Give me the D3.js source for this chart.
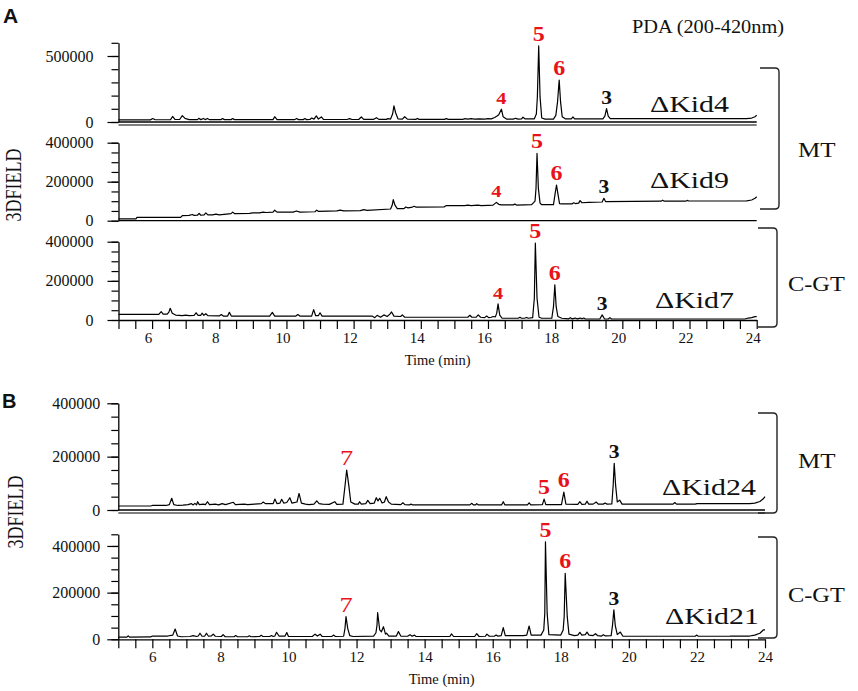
<!DOCTYPE html>
<html>
<head>
<meta charset="utf-8">
<script src="https://cdn.jsdelivr.net/npm/d3@7"></script>
<style>
  body { margin: 0; background: #fff; }
  svg { display: block; font-family: "Liberation Serif", "Times New Roman", serif; }
</style>
</head>
<body>
<div id="chart"></div>
<script>
// Chromatogram traces: [time (min), 3DFIELD signal]
const kid4 = [[5.0,16e3],[5.95,16e3],[6.02,26e3],[6.09,17e3],[6.55,18e3],[6.61,42e3],[6.68,19e3],[6.82,19e3],[6.9,48e3],[6.98,27e3],[7.1,18e3],[7.35,18e3],[7.39,28e3],[7.45,18e3],[7.53,27e3],[7.58,18e3],[7.65,27e3],[7.7,18e3],[8.05,18e3],[8.1,26e3],[8.15,18e3],[8.35,18e3],[8.4,26e3],[8.45,18e3],[9.6,18e3],[9.65,40e3],[9.72,18e3],[10.25,18e3],[10.3,27e3],[10.36,18e3],[10.5,18e3],[10.55,26e3],[10.6,18e3],[10.7,19e3],[10.75,30e3],[10.82,22e3],[10.89,46e3],[10.95,22e3],[11.04,38e3],[11.1,19e3],[11.8,19e3],[11.88,26e3],[11.95,19e3],[12.15,19e3],[12.23,38e3],[12.3,20e3],[12.6,20e3],[12.68,33e3],[12.75,20e3],[12.98,20e3],[13.02,26e3],[13.1,22e3],[13.16,60e3],[13.2,122e3],[13.25,70e3],[13.32,24e3],[13.45,22e3],[13.52,40e3],[13.6,22e3],[13.85,20e3],[13.9,27e3],[13.95,20e3],[14.7,20e3],[14.76,26e3],[14.82,20e3],[15.25,20e3],[15.3,25e3],[15.4,22e3],[15.5,25e3],[15.6,22e3],[15.75,24e3],[15.9,22e3],[16.0,26e3],[16.1,24e3],[16.2,34e3],[16.27,45e3],[16.32,55e3],[16.4,97e3],[16.45,40e3],[16.55,22e3],[16.75,22e3],[16.82,28e3],[16.9,22e3],[17.0,24e3],[17.04,36e3],[17.1,24e3],[17.38,24e3],[17.44,60e3],[17.47,190e3],[17.51,576e3],[17.55,190e3],[17.6,30e3],[17.7,22e3],[17.95,22e3],[18.02,50e3],[18.07,150e3],[18.12,318e3],[18.16,154e3],[18.21,40e3],[18.3,24e3],[18.48,24e3],[18.53,38e3],[18.58,24e3],[19.42,24e3],[19.48,45e3],[19.53,102e3],[19.58,45e3],[19.64,26e3],[23.7,26e3],[23.85,30e3],[23.95,40e3],[24.0,52e3]];

const kid9 = [[5.0,9e3],[5.52,9e3],[5.55,17e3],[6.85,17e3],[6.9,26e3],[7.1,27e3],[7.2,32e3],[7.25,27e3],[7.35,28e3],[7.4,38e3],[7.45,28e3],[7.55,30e3],[7.6,40e3],[7.66,30e3],[7.8,30e3],[7.9,34e3],[8.0,30e3],[8.35,36e3],[8.4,44e3],[8.46,36e3],[8.9,38e3],[9.0,40e3],[9.2,40e3],[9.3,44e3],[9.4,42e3],[9.6,44e3],[9.65,54e3],[9.72,44e3],[10.2,44e3],[10.3,50e3],[10.4,44e3],[10.85,46e3],[10.9,54e3],[10.95,48e3],[11.5,50e3],[11.6,54e3],[11.7,50e3],[12.2,52e3],[12.3,57e3],[12.4,53e3],[13.1,60e3],[13.15,80e3],[13.18,108e3],[13.23,80e3],[13.3,62e3],[13.5,62e3],[13.55,70e3],[13.62,66e3],[13.75,70e3],[13.8,74e3],[13.85,70e3],[14.7,71e3],[14.75,77e3],[15.3,77e3],[15.4,80e3],[15.5,77e3],[15.7,80e3],[15.8,77e3],[16.0,79e3],[16.15,80e3],[16.25,94e3],[16.32,84e3],[16.4,81e3],[16.6,81e3],[16.75,81e3],[16.8,85e3],[16.85,80e3],[17.3,82e3],[17.4,100e3],[17.43,166e3],[17.46,345e3],[17.5,166e3],[17.55,90e3],[17.6,82e3],[17.95,82e3],[18.0,140e3],[18.04,183e3],[18.08,140e3],[18.13,88e3],[18.2,86e3],[18.5,86e3],[18.55,92e3],[18.6,88e3],[18.7,90e3],[18.74,103e3],[18.8,92e3],[19.0,94e3],[19.4,96e3],[19.45,115e3],[19.5,98e3],[21.15,100e3],[21.2,105e3],[21.25,100e3],[21.88,100e3],[21.93,104e3],[21.98,101e3],[23.7,102e3],[23.85,106e3],[23.95,115e3],[24.0,123e3]];

const kid7 = [[5.0,29e3],[6.2,29e3],[6.27,43e3],[6.33,30e3],[6.45,30e3],[6.5,40e3],[6.54,60e3],[6.6,35e3],[6.7,25e3],[6.9,22e3],[7.0,25e3],[7.1,22e3],[7.25,24e3],[7.31,37e3],[7.37,24e3],[7.45,24e3],[7.49,35e3],[7.54,24e3],[7.6,32e3],[7.66,22e3],[8.0,21e3],[8.06,28e3],[8.12,20e3],[8.25,20e3],[8.3,39e3],[8.36,20e3],[9.5,20e3],[9.58,39e3],[9.65,20e3],[10.28,20e3],[10.34,28e3],[10.4,20e3],[10.75,20e3],[10.81,53e3],[10.87,22e3],[10.95,22e3],[11.0,37e3],[11.06,20e3],[12.55,20e3],[12.63,12e3],[12.7,24e3],[12.8,14e3],[12.9,26e3],[13.0,18e3],[13.08,30e3],[13.13,41e3],[13.2,20e3],[13.4,18e3],[13.45,26e3],[13.52,14e3],[15.4,14e3],[15.46,24e3],[15.52,14e3],[15.65,15e3],[15.71,26e3],[15.78,14e3],[15.9,12e3],[15.96,20e3],[16.02,12e3],[16.1,14e3],[16.15,18e3],[16.22,16e3],[16.26,35e3],[16.3,82e3],[16.35,25e3],[16.42,9e3],[16.9,9e3],[16.95,14e3],[17.0,9e3],[17.1,10e3],[17.15,13e3],[17.2,9e3],[17.33,12e3],[17.38,111e3],[17.41,393e3],[17.46,111e3],[17.52,14e3],[17.6,9e3],[17.9,9e3],[17.95,68e3],[17.99,180e3],[18.03,68e3],[18.08,18e3],[18.2,9e3],[18.4,6e3],[18.45,12e3],[18.5,6e3],[18.6,10e3],[18.65,6e3],[18.75,10e3],[18.8,6e3],[18.85,10e3],[18.9,5e3],[19.33,5e3],[19.4,26e3],[19.47,5e3],[19.58,5e3],[19.63,12e3],[19.68,5e3],[23.65,5e3],[23.75,10e3],[23.85,12e3],[23.95,17e3],[24.0,17e3]];

const kid24 = [[5.0,15e3],[5.95,15e3],[6.0,17e3],[6.4,17e3],[6.5,20e3],[6.57,44e3],[6.63,20e3],[6.75,17e3],[6.9,18e3],[7.05,20e3],[7.15,24e3],[7.2,19e3],[7.25,25e3],[7.3,19e3],[7.33,31e3],[7.38,20e3],[7.5,22e3],[7.56,20e3],[7.62,31e3],[7.68,20e3],[7.85,22e3],[7.95,19e3],[8.05,24e3],[8.15,20e3],[8.38,29e3],[8.44,20e3],[8.7,22e3],[8.8,20e3],[9.0,22e3],[9.2,24e3],[9.26,30e3],[9.32,24e3],[9.55,24e3],[9.6,41e3],[9.66,24e3],[9.75,26e3],[9.8,40e3],[9.86,26e3],[9.95,28e3],[10.04,46e3],[10.1,26e3],[10.25,30e3],[10.31,62e3],[10.38,26e3],[10.5,22e3],[10.6,20e3],[10.75,22e3],[10.83,34e3],[10.9,24e3],[11.0,22e3],[11.2,21e3],[11.36,31e3],[11.42,21e3],[11.6,22e3],[11.66,90e3],[11.71,150e3],[11.77,94e3],[11.83,30e3],[11.95,22e3],[12.05,22e3],[12.09,31e3],[12.14,22e3],[12.27,24e3],[12.33,36e3],[12.4,24e3],[12.52,26e3],[12.58,46e3],[12.63,34e3],[12.68,44e3],[12.75,26e3],[12.82,30e3],[12.87,50e3],[12.94,30e3],[13.02,22e3],[13.3,20e3],[13.36,27e3],[13.42,20e3],[13.55,19e3],[13.6,22e3],[13.65,19e3],[15.33,19e3],[15.38,25e3],[15.44,19e3],[15.5,19e3],[15.53,24e3],[15.58,19e3],[16.26,19e3],[16.31,31e3],[16.36,19e3],[17.02,19e3],[17.07,27e3],[17.12,19e3],[17.46,20e3],[17.51,41e3],[17.56,20e3],[18.02,20e3],[18.09,67e3],[18.15,22e3],[18.5,21e3],[18.56,31e3],[18.62,21e3],[18.72,22e3],[18.77,33e3],[18.82,22e3],[18.95,22e3],[19.04,30e3],[19.1,22e3],[19.25,22e3],[19.3,26e3],[19.36,22e3],[19.5,23e3],[19.54,94e3],[19.57,175e3],[19.61,94e3],[19.66,30e3],[19.73,37e3],[19.8,22e3],[21.3,22e3],[21.35,28e3],[21.4,22e3],[21.95,22e3],[22.0,24e3],[23.55,24e3],[23.7,26e3],[23.85,32e3],[23.95,42e3],[24.0,50e3]];

const kid21 = [[5.0,9e3],[5.25,9e3],[5.29,15e3],[5.33,9e3],[5.95,10e3],[6.0,14e3],[6.45,14e3],[6.6,18e3],[6.67,44e3],[6.74,14e3],[6.85,11e3],[7.1,12e3],[7.2,16e3],[7.3,12e3],[7.35,14e3],[7.4,26e3],[7.46,13e3],[7.54,14e3],[7.59,26e3],[7.65,13e3],[7.74,15e3],[7.79,22e3],[7.85,13e3],[8.03,12e3],[8.08,20e3],[8.14,11e3],[8.4,11e3],[8.45,16e3],[8.5,11e3],[8.8,11e3],[8.85,15e3],[8.9,11e3],[9.15,12e3],[9.2,17e3],[9.25,12e3],[9.45,12e3],[9.5,16e3],[9.55,12e3],[9.6,14e3],[9.65,30e3],[9.72,14e3],[9.9,14e3],[9.95,29e3],[10.0,12e3],[10.7,12e3],[10.78,22e3],[10.85,14e3],[10.93,22e3],[10.99,12e3],[11.27,12e3],[11.32,18e3],[11.38,12e3],[11.62,13e3],[11.66,47e3],[11.69,97e3],[11.74,47e3],[11.8,16e3],[11.9,12e3],[12.5,14e3],[12.57,28e3],[12.6,60e3],[12.62,114e3],[12.68,40e3],[12.73,32e3],[12.79,54e3],[12.85,22e3],[12.88,26e3],[12.95,14e3],[13.17,14e3],[13.23,33e3],[13.3,14e3],[13.5,13e3],[13.57,20e3],[13.63,13e3],[13.7,18e3],[13.75,12e3],[14.74,12e3],[14.79,23e3],[14.85,12e3],[15.47,12e3],[15.53,24e3],[15.6,12e3],[15.78,13e3],[15.83,22e3],[15.9,13e3],[16.05,14e3],[16.1,18e3],[16.15,14e3],[16.25,16e3],[16.31,50e3],[16.37,16e3],[16.9,16e3],[17.0,18e3],[17.07,57e3],[17.13,18e3],[17.42,18e3],[17.5,40e3],[17.53,111e3],[17.55,418e3],[17.6,111e3],[17.65,20e3],[18.0,18e3],[18.07,40e3],[18.1,97e3],[18.13,283e3],[18.19,97e3],[18.24,22e3],[18.4,16e3],[18.5,18e3],[18.56,30e3],[18.62,18e3],[18.72,20e3],[18.77,31e3],[18.83,18e3],[18.95,16e3],[19.02,24e3],[19.08,16e3],[19.2,14e3],[19.25,20e3],[19.3,15e3],[19.48,16e3],[19.52,60e3],[19.56,126e3],[19.6,60e3],[19.66,20e3],[19.75,31e3],[19.82,14e3],[21.95,13e3],[21.99,18e3],[22.04,13e3],[22.95,13e3],[23.0,14e3],[23.55,14e3],[23.7,18e3],[23.85,26e3],[23.95,40e3],[24.0,40e3]];

// Peak numbers: [label, retention time]
const peaksKid4  = [['4', 16.40], ['5', 17.51], ['6', 18.12], ['3', 19.53]];
const peaksKid9  = [['4', 16.25], ['5', 17.46], ['6', 18.04], ['3', 19.45]];
const peaksKid7  = [['4', 16.30], ['5', 17.41], ['6', 17.99], ['3', 19.40]];
const peaksKid24 = [['7', 11.71], ['5', 17.51], ['6', 18.09], ['3', 19.57]];
const peaksKid21 = [['7', 11.69], ['5', 17.55], ['6', 18.13], ['3', 19.56]];

// Axis ticks
const timeDomain = [5, 24];
const timeTickStep = 0.5;
const timeTickLabels = [6, 8, 10, 12, 14, 16, 18, 20, 22, 24];
const yLabelsKid4 = [0, 500000];
const yLabelsOther = [0, 200000, 400000];

// ---------- layout ----------
const W = 858, H = 691;
const red = '#e8121a';
const peakStyle = {
    '3': { size: 18, fill: '#111', weight: 'bold' },
    '4': { size: 17, fill: red, weight: 'bold' },
    '5': { size: 20, fill: red, weight: 'bold' },
    '6': { size: 20, fill: red, weight: 'bold' },
    '7': { size: 22, fill: red, weight: 'normal' }
};

const svg = d3.select('#chart').append('svg')
    .attr('width', W)
    .attr('height', H);

svg.append('rect').attr('width', W).attr('height', H).attr('fill', '#fff');

// stretched text helper (the figure's text is horizontally widened)
function label(parent, str, x, y, o) {
    return parent.append('text')
        .attr('transform', `translate(${x},${y}) scale(${o.sx || 1},1)` + (o.rot ? ` rotate(${o.rot})` : ''))
        .attr('text-anchor', o.anchor || 'start')
        .style('font-size', o.size + 'px')
        .style('font-weight', o.weight || 'normal')
        .style('font-family', o.family || null)
        .style('fill', o.fill || '#111')
        .text(str);
}

const xA = d3.scaleLinear().domain(timeDomain).range([118.5, 756.7]);
const xB = d3.scaleLinear().domain(timeDomain).range([118.3, 765]);

const panels = [
    { data: kid4,  peaks: peaksKid4,  x: xA, yMax: 600000, step: 100000, labels: yLabelsKid4, y0: 122,   yTop: 42.8,  name: '\u0394Kid4',  nx: 650, ny: 112, dbl: true,  pad: 14 },
    { data: kid9,  peaks: peaksKid9,  x: xA, yMax: 400000, step: 50000,  labels: yLabelsOther, y0: 220.7, yTop: 142.7, name: '\u0394Kid9',  nx: 650, ny: 188, pad: 14 },
    { data: kid7,  peaks: peaksKid7,  x: xA, yMax: 400000, step: 50000,  labels: yLabelsOther, y0: 320,   yTop: 241.7, name: '\u0394Kid7',  nx: 655, ny: 308, pad: 14, xAxis: true, dx: -4 },
    { data: kid24, peaks: peaksKid24, x: xB, yMax: 400000, step: 50000,  labels: yLabelsOther, y0: 510,   yTop: 403.3, name: '\u0394Kid24', nx: 662, ny: 495, dbl: true, pad: 7 },
    { data: kid21, peaks: peaksKid21, x: xB, yMax: 450000, step: 50000,  labels: yLabelsOther, y0: 639.3, yTop: 534.3, name: '\u0394Kid21', nx: 665, ny: 624, pad: 7, xAxis: true, dx: 0 }
];

panels.forEach(p => {
    const x = p.x;
    const y = d3.scaleLinear().domain([0, p.yMax]).range([p.y0, p.yTop]);
    const g = svg.append('g');

    // minor y ticks
    const minor = d3.range(0, p.yMax + 1, p.step);
    g.append('g')
        .attr('transform', `translate(${x(timeDomain[0])},0)`)
        .call(d3.axisLeft(y).tickValues(minor).tickSize(7).tickSizeOuter(0).tickFormat(''))
        .call(a => a.select('.domain').attr('stroke-width', 1.3));

    // labelled y ticks
    g.append('g')
        .attr('transform', `translate(${x(timeDomain[0])},0)`)
        .call(d3.axisLeft(y).tickValues(p.labels).tickSize(11).tickPadding(p.pad).tickFormat(d3.format('d')))
        .call(a => a.select('.domain').remove())
        .call(a => a.selectAll('text')
            .style('font-size', '16px')
            .style('font-family', '"Liberation Serif", serif')
            .attr('fill', '#111'));

    g.selectAll('.tick line').attr('stroke-width', 1.2);

    // baseline / time axis
    if (p.xAxis) {
        const ticks = d3.range(timeDomain[0], timeDomain[1] + 0.01, timeTickStep);
        g.append('g')
            .attr('transform', `translate(0,${p.y0})`)
            .call(d3.axisBottom(x).tickValues(ticks).tickSize(9).tickPadding(3).tickSizeOuter(0)
                .tickFormat(d => timeTickLabels.includes(d) ? d : ''))
            .call(a => a.select('.domain').attr('stroke-width', 1.3))
            .call(a => a.selectAll('.tick line').attr('stroke-width', 1.2))
            .call(a => a.selectAll('text')
                .attr('dx', p.dx)
                .style('font-size', '15px')
                .style('font-family', '"Liberation Serif", serif')
                .attr('fill', '#111'));
        label(g, 'Time (min)', (x.range()[0] + x.range()[1]) / 2, p.y0 + 45, { size: 14.5, anchor: 'middle', sx: 1 });
    } else {
        g.append('line')
            .attr('x1', x.range()[0]).attr('x2', x.range()[1])
            .attr('y1', y(0)).attr('y2', y(0))
            .attr('stroke', '#000').attr('stroke-width', 1.3);
    }
    if (p.dbl) {
        g.append('line')
            .attr('x1', x.range()[0]).attr('x2', x.range()[1])
            .attr('y1', y(0) + 3).attr('y2', y(0) + 3)
            .attr('stroke', '#000').attr('stroke-width', 1.2);
    }

    // trace
    const line = d3.line().x(d => x(d[0])).y(d => y(d[1]));
    g.append('path')
        .datum(p.data)
        .attr('d', line)
        .attr('fill', 'none')
        .attr('stroke', '#000')
        .attr('stroke-width', 1.2)
        .attr('stroke-linejoin', 'round');

    // peak numbers, placed just above each apex
    p.peaks.forEach(([lab, t]) => {
        const apex = d3.max(p.data.filter(d => Math.abs(d[0] - t) < 0.06), d => d[1]);
        const s = peakStyle[lab];
        label(g, lab, x(t), y(apex) - 5, { size: s.size, fill: s.fill, weight: s.weight, anchor: 'middle', sx: 1.2 });
    });

    // strain name
    label(g, p.name, p.nx, p.ny, { size: 23, sx: 1.3 });
});

// group brackets
function bracket(xa, xb, y1, y2) {
    const r = 4;
    svg.append('path')
        .attr('d', `M${xa},${y1} L${xb - r},${y1} Q${xb},${y1} ${xb},${y1 + r} L${xb},${y2 - r} Q${xb},${y2} ${xb - r},${y2} L${xa},${y2}`)
        .attr('fill', 'none')
        .attr('stroke', '#222')
        .attr('stroke-width', 1.4);
}
bracket(760, 779, 68, 209);
bracket(758, 777, 228, 327);
bracket(758, 777, 413, 513);
bracket(758, 777, 537, 638);

label(svg, 'MT', 798, 157, { size: 20, sx: 1.25 });
label(svg, 'C-GT', 788, 291, { size: 21, sx: 1.16 });
label(svg, 'MT', 798, 468, { size: 20, sx: 1.25 });
label(svg, 'C-GT', 788, 602, { size: 21, sx: 1.16 });

label(svg, 'PDA (200-420nm)', 632, 33, { size: 18.5, sx: 1.1 });

label(svg, '3DFIELD', 21, 185, { size: 18, sx: 1.25, rot: -90, anchor: 'middle' });
label(svg, '3DFIELD', 23, 512, { size: 18, sx: 1.25, rot: -90, anchor: 'middle' });

label(svg, 'A', 3, 23, { size: 21, weight: 'bold', family: '"Liberation Sans", Arial, sans-serif' });
label(svg, 'B', 2, 408, { size: 20, weight: 'bold', family: '"Liberation Sans", Arial, sans-serif' });
</script>
</body>
</html>
